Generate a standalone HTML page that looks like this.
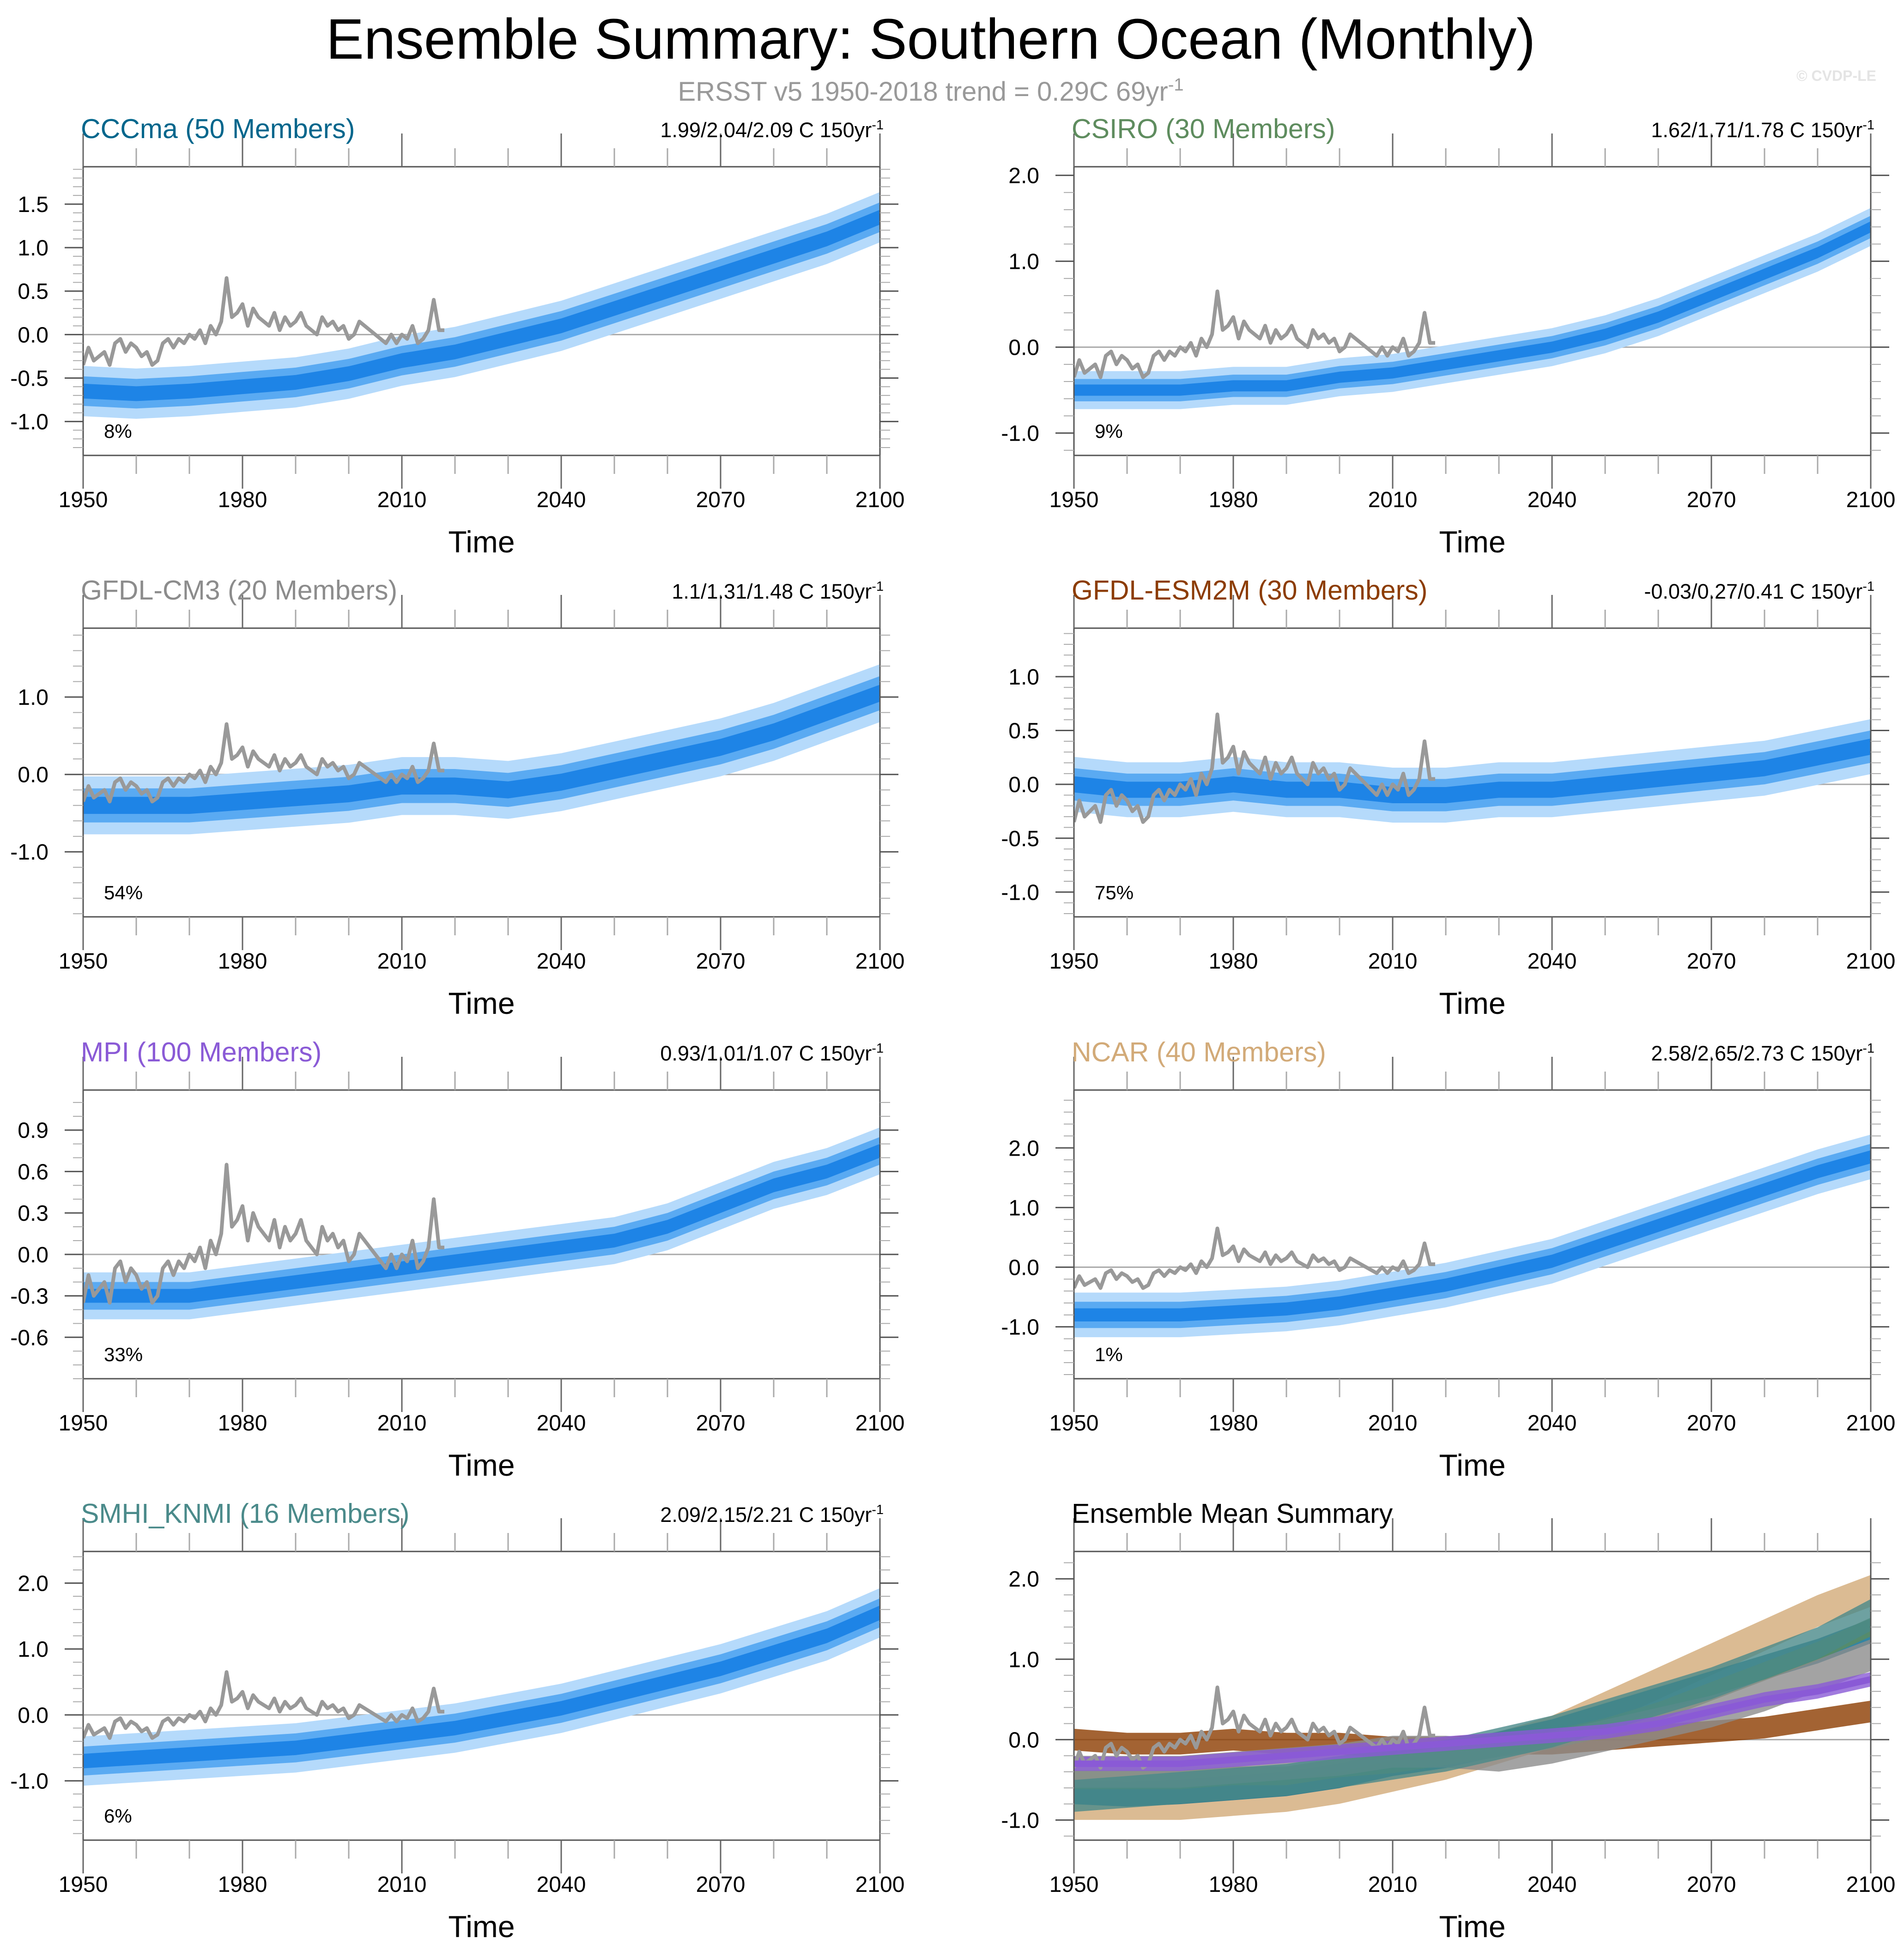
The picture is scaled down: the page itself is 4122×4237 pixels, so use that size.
<!DOCTYPE html>
<html><head><meta charset="utf-8"><style>
html,body{margin:0;padding:0;background:#fff}
svg{display:block;font-family:"Liberation Sans",sans-serif}
</style></head><body>
<svg id="fig" width="4122" height="4237" viewBox="0 0 4122 4237" xmlns="http://www.w3.org/2000/svg">
<rect width="4122" height="4237" fill="#fff"/>
<text x="2015" y="127" font-size="123" text-anchor="middle" fill="#000">Ensemble Summary: Southern Ocean (Monthly)</text>
<text x="2015" y="218" font-size="58" text-anchor="middle" fill="#999">ERSST v5 1950-2018 trend = 0.29C 69yr<tspan dy="-22" font-size="38">-1</tspan></text>
<text x="4062" y="175" font-size="32" font-weight="bold" text-anchor="end" fill="#e4e4e4">© CVDP-LE</text>
<g id="panels"></g>
</svg>
<script>
// ---- data ----
const years = [1950,1960,1970,1980,1990,2000,2010,2020,2030,2040,2050,2060,2070,2080,2090,2100];
const cccmaMean = [-0.65,-0.68,-0.65,-0.6,-0.55,-0.45,-0.3,-0.2,-0.05,0.1,0.3,0.5,0.7,0.9,1.1,1.35];
const csiroMean = [-0.5,-0.5,-0.5,-0.45,-0.45,-0.35,-0.3,-0.2,-0.1,0.0,0.15,0.35,0.6,0.85,1.1,1.4];
const gfdlcm3Mean = [-0.4,-0.4,-0.4,-0.35,-0.3,-0.25,-0.15,-0.15,-0.2,-0.1,0.05,0.2,0.35,0.55,0.8,1.05];
const esm2mMean = [0.0,-0.05,-0.05,0.0,-0.05,-0.05,-0.1,-0.1,-0.05,-0.05,0.0,0.05,0.1,0.15,0.25,0.35];
const mpiMean = [-0.3,-0.3,-0.3,-0.25,-0.2,-0.15,-0.1,-0.05,0.0,0.05,0.1,0.2,0.35,0.5,0.6,0.75];
const ncarMean = [-0.8,-0.8,-0.8,-0.75,-0.7,-0.6,-0.45,-0.3,-0.1,0.1,0.4,0.7,1.0,1.3,1.6,1.85];
const smhiMean = [-0.7,-0.65,-0.6,-0.55,-0.5,-0.4,-0.3,-0.2,-0.05,0.1,0.3,0.5,0.7,0.95,1.2,1.55];
const bandHalf = [0.17,0.13,0.22,0.15,0.1,0.22,0.22];
const obsYears = [];
for (let y=1950;y<=2018;y++) obsYears.push(y);
const obsVals = [-0.35,-0.15,-0.3,-0.25,-0.2,-0.35,-0.1,-0.05,-0.2,-0.1,-0.15,-0.25,-0.2,-0.35,-0.3,-0.1,-0.05,-0.15,-0.05,-0.1,0.0,-0.05,0.05,-0.1,0.1,0.0,0.15,0.65,0.2,0.25,0.35,0.1,0.3,0.2,0.15,0.1,0.25,0.05,0.2,0.1,0.15,0.25,0.1,0.05,0.0,0.2,0.1,0.15,0.05,0.1,-0.05,0.0,0.15,0.1,0.05,0.0,-0.05,-0.1,0.0,-0.1,0.0,-0.05,0.1,-0.1,-0.05,0.05,0.4,0.05,0.05];
const xTicks = [1950,1980,2010,2040,2070,2100];
const panelTitles = ["CCCma (50 Members)","CSIRO (30 Members)","GFDL-CM3 (20 Members)","GFDL-ESM2M (30 Members)","MPI (100 Members)","NCAR (40 Members)","SMHI_KNMI (16 Members)","Ensemble Mean Summary"];
const trendLabels = ["1.99/2.04/2.09 C 150yr","1.62/1.71/1.78 C 150yr","1.1/1.31/1.48 C 150yr","-0.03/0.27/0.41 C 150yr","0.93/1.01/1.07 C 150yr","2.58/2.65/2.73 C 150yr","2.09/2.15/2.21 C 150yr",""];
const pctLabels = ["8%","9%","54%","75%","33%","1%","6%",""];
const yTickLabels = [["-1.0","-0.5","0.0","0.5","1.0","1.5"],["-1.0","0.0","1.0","2.0"],["-1.0","0.0","1.0"],["-1.0","-0.5","0.0","0.5","1.0"],["-0.6","-0.3","0.0","0.3","0.6","0.9"],["-1.0","0.0","1.0","2.0"],["-1.0","0.0","1.0","2.0"],["-1.0","0.0","1.0","2.0"]];
const yMin = [-1.39,-1.26,-1.84,-1.23,-0.9,-1.87,-1.9,-1.25];
const yMax = [1.93,2.1,1.89,1.45,1.19,2.97,2.48,2.34];
const minorStep = [0.1,0.2,0.2,0.1,0.1,0.2,0.2,0.2];
// ---- layout ----
const colors = ["#00668c","#5e8c5e","#8c8c8c","#8c3c00","#8a5ad6","#d2aa78","#4a8a8a","#000"];
const models = [cccmaMean,csiroMean,gfdlcm3Mean,esm2mMean,mpiMean,ncarMean,smhiMean];
const NS="http://www.w3.org/2000/svg";
const root=document.getElementById('panels');
function mk(tag,attrs,parent){const e=document.createElementNS(NS,tag);for(const k in attrs)e.setAttribute(k,attrs[k]);(parent||root).appendChild(e);return e;}
const boxL=[180,2325], boxW=1725, boxT=[361,1360,2360,3359], boxH=625;
for(let p=0;p<8;p++){
  const L=boxL[p%2], T=boxT[Math.floor(p/2)], R=L+boxW, B=T+boxH;
  const g=mk('g',{});
  
  
  const xs=v=>L+(v-1950)/150*boxW;
  const ys=v=>T+(yMax[p]-v)/(yMax[p]-yMin[p])*boxH;
  const clipId='clip'+p;
  const cp=mk('clipPath',{id:clipId},g); mk('rect',{x:L,y:T,width:boxW,height:boxH},cp);
  const plot=mk('g',{'clip-path':'url(#'+clipId+')'},g);
  const zl=mk('line',{x1:L,x2:R,y1:ys(0),y2:ys(0),stroke:'#aaa','stroke-width':3},plot);
  
  
  function band(arr,h,fill,op,parent,name){
    let top=arr.map((v,i)=>xs(years[i])+','+ys(v+h)).join(' ');
    let bot=arr.map((v,i)=>xs(years[i])+','+ys(v-h)).reverse().join(' ');
    const e=mk('polygon',{points:top+' '+bot,fill:fill,'fill-opacity':op},parent);
    
    
  }
  if(p<7){
    const arr=models[p];
    band(arr,bandHalf[p]*1.7,'#b5dafb',1,plot,'ensemble-range-band');
    band(arr,bandHalf[p]*1.0,'#5aaaf2',1,plot,'ensemble-spread-band');
    band(arr,bandHalf[p]*0.5,'#1e84e6',1,plot,'ensemble-core-band');
  } else {
    const order=[3,5,0,1,2,6,4];
    order.forEach(m=>{ band(models[m],bandHalf[m]*0.9,colors[m],0.8,plot,'summary-band-'+m); });
  }
  const obs=mk('polyline',{points:obsVals.map((v,i)=>xs(obsYears[i])+','+ys(v)).join(' '),fill:'none',stroke:'#999','stroke-width':8,'stroke-linejoin':'round'},plot);
  
  
  if(p===7){ [4].forEach(m=>{ const e=mk('polyline',{points:models[m].map((v,i)=>xs(years[i])+','+ys(v)).join(' '),fill:'none',stroke:colors[m],'stroke-width':14},plot);  }); }
  const fr=mk('rect',{x:L,y:T,width:boxW,height:boxH,fill:'none',stroke:'#555','stroke-width':3},g);
  
  
  for(let y=1950;y<=2100;y+=10){
    const major=(y-1950)%30===0, len=major?72:40, x=xs(y);
    mk('line',{x1:x,x2:x,y1:B,y2:B+len,stroke:major?'#666':'#aaa','stroke-width':3},g);
    mk('line',{x1:x,x2:x,y1:T,y2:T-len,stroke:major?'#666':'#aaa','stroke-width':3},g);
  }
  xTicks.forEach(y=>{const t=mk('text',{x:xs(y),y:B+112,'font-size':48,'text-anchor':'middle'},g);t.textContent=y;
    
    });
  const xt=mk('text',{x:L+boxW/2,y:B+210,'font-size':66,'text-anchor':'middle'},g); xt.textContent='Time';
  
  
  const ms=minorStep[p];
  for(let v=Math.ceil(yMin[p]/ms)*ms; v<=yMax[p]; v+=ms){
    mk('line',{x1:L,x2:L-22,y1:ys(v),y2:ys(v),stroke:'#aaa','stroke-width':2},g);
    mk('line',{x1:R,x2:R+22,y1:ys(v),y2:ys(v),stroke:'#aaa','stroke-width':2},g);
  }
  yTickLabels[p].forEach(s=>{const v=parseFloat(s);
    mk('line',{x1:L,x2:L-40,y1:ys(v),y2:ys(v),stroke:'#555','stroke-width':3},g);
    mk('line',{x1:R,x2:R+40,y1:ys(v),y2:ys(v),stroke:'#555','stroke-width':3},g);
    const t=mk('text',{x:L-75,y:ys(v)+17,'font-size':48,'text-anchor':'end'},g); t.textContent=s;
    
    });
  const tt=mk('text',{x:L-5,y:T-62,'font-size':59,fill:colors[p]},g); tt.textContent=panelTitles[p];
  
  
  if(trendLabels[p]){
    const tr=mk('text',{x:R+8,y:T-64,'font-size':45,'text-anchor':'end'},g); tr.textContent=trendLabels[p];
    const sp=mk('tspan',{dy:-17,'font-size':29},tr); sp.textContent='-1';
    
    
    const pc=mk('text',{x:L+45,y:B-38,'font-size':42},g); pc.textContent=pctLabels[p];
    
    
  }
}
</script>
</body></html>
